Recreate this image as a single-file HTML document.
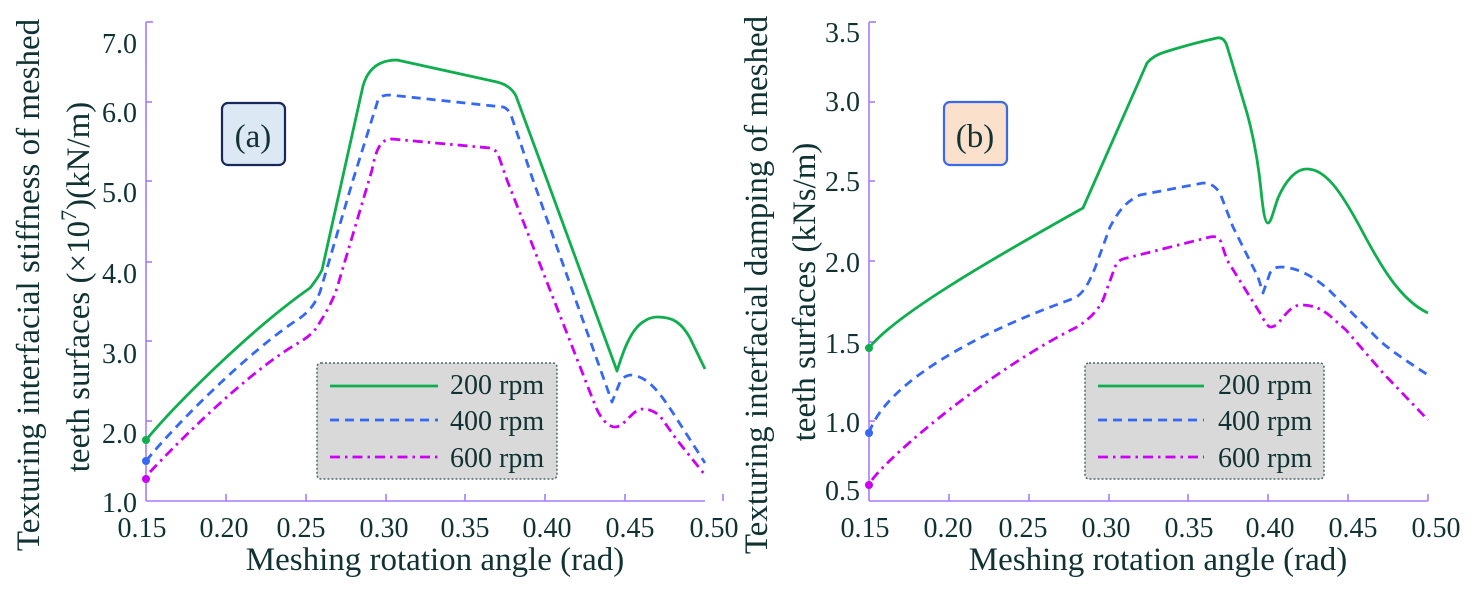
<!DOCTYPE html>
<html>
<head>
<meta charset="utf-8">
<style>
  html,body{margin:0;padding:0;background:#fff;}
  svg{display:block;}
  text{font-family:"Liberation Serif","Times New Roman",serif;fill:#103232;}
</style>
</head>
<body>
<svg width="1476" height="591" viewBox="0 0 1476 591" xmlns="http://www.w3.org/2000/svg">
  <!-- ================= PANEL A ================= -->
  <g stroke="#a57cff" stroke-width="1.6" fill="none">
    <line x1="146" y1="22" x2="146" y2="501"/>
    <line x1="146" y1="501" x2="705" y2="501"/>
    <!-- y ticks -->
    <line x1="146" y1="22" x2="153" y2="22"/>
    <line x1="146" y1="102" x2="152" y2="102"/>
    <line x1="146" y1="181" x2="152" y2="181"/>
    <line x1="146" y1="262" x2="152" y2="262"/>
    <line x1="146" y1="341" x2="152" y2="341"/>
    <line x1="146" y1="421" x2="152" y2="421"/>
    <!-- x ticks -->
    <line x1="226" y1="494" x2="226" y2="501"/>
    <line x1="306" y1="494" x2="306" y2="501"/>
    <line x1="386" y1="494" x2="386" y2="501"/>
    <line x1="465" y1="494" x2="465" y2="501"/>
    <line x1="545" y1="494" x2="545" y2="501"/>
    <line x1="625" y1="494" x2="625" y2="501"/>
    <line x1="723" y1="494" x2="723" y2="501"/>
  </g>
  <!-- y tick labels A -->
  <g font-size="28" text-anchor="end">
    <text x="137" y="53">7.0</text>
    <text x="137" y="122">6.0</text>
    <text x="137" y="202">5.0</text>
    <text x="137" y="283">4.0</text>
    <text x="137" y="363">3.0</text>
    <text x="137" y="443">2.0</text>
    <text x="137" y="512">1.0</text>
  </g>
  <!-- x tick labels A -->
  <g font-size="28" text-anchor="middle">
    <text x="142" y="537">0.15</text>
    <text x="224" y="537">0.20</text>
    <text x="301" y="537">0.25</text>
    <text x="384" y="537">0.30</text>
    <text x="465" y="537">0.35</text>
    <text x="547" y="537">0.40</text>
    <text x="630" y="537">0.45</text>
    <text x="714" y="537">0.50</text>
  </g>
  <text x="435" y="570" font-size="33" text-anchor="middle">Meshing rotation angle (rad)</text>
  <text transform="translate(39,285) rotate(-90)" font-size="33" text-anchor="middle">Texturing interfacial stiffness of meshed</text>
  <text transform="translate(89,287) rotate(-90)" font-size="33" text-anchor="middle">teeth surfaces (×10<tspan font-size="22" dy="-13">7</tspan><tspan dy="13">)(kN/m)</tspan></text>

  <!-- (a) label box -->
  <rect x="222" y="103" width="63" height="62" rx="6" ry="6" fill="#dde8f5" stroke="#17285a" stroke-width="2.2"/>
  <text x="253" y="147" font-size="33" text-anchor="middle">(a)</text>

  <!-- curves A -->
  <path d="M146,440 C175,405 250,330 310,288 C314,283 318,278 322,270 L363,86 C368,68 380,60 397,60 L497,82 C505,84 512,88 516,96 L547,180 L617,371 C622,355 630,330 643,322 Q650,317 657,317 C670,317 680,320 690,338 L705,369" fill="none" stroke="#0fae4e" stroke-width="2.8" stroke-linejoin="round"/>
  <path d="M146,461 C175,425 250,350 300,318 C310,311 316,302 320,292 L353,180 L378,100 C381,96 384,95 390,95 L503,107 C507,108 510,112 512,118 L533,180 L612,402 L620,382 C623,377 627,375 632,375 C645,377 655,385 673,413 L705,463" fill="none" stroke="#3568f5" stroke-width="2.8" stroke-dasharray="9,6" stroke-linejoin="round"/>
  <path d="M150,472 C180,440 250,370 300,342 C310,336 316,330 320,322 C326,313 333,300 337,288 L372,170 C376,150 380,139 392,139 L490,148 C495,149 497,152 499,157 L507,180 L595,405 C600,418 608,427 615,427 C625,427 632,409 643,409 C650,409 655,412 660,416 L677,440 L705,475" fill="none" stroke="#cc00f5" stroke-width="2.8" stroke-dasharray="10,5,2.5,5" stroke-linejoin="round"/>
  <circle cx="146" cy="440" r="4" fill="#0fae4e"/>
  <circle cx="146" cy="461" r="4" fill="#3568f5"/>
  <circle cx="146" cy="479" r="4" fill="#cc00f5"/>

  <!-- legend A -->
  <rect x="317" y="363" width="240" height="116" rx="4" ry="4" fill="#d9d9d9" stroke="#4d6767" stroke-width="1.5" stroke-dasharray="2,2"/>
  <line x1="330" y1="386" x2="438" y2="386" stroke="#0fae4e" stroke-width="2.8"/>
  <line x1="330" y1="420" x2="438" y2="420" stroke="#3568f5" stroke-width="2.8" stroke-dasharray="9,6"/>
  <line x1="330" y1="457" x2="438" y2="457" stroke="#cc00f5" stroke-width="2.8" stroke-dasharray="10,5,2.5,5"/>
  <g font-size="28">
    <text x="450" y="394">200 rpm</text>
    <text x="450" y="430">400 rpm</text>
    <text x="450" y="467">600 rpm</text>
  </g>

  <!-- ================= PANEL B ================= -->
  <g stroke="#a57cff" stroke-width="1.6" fill="none">
    <line x1="869" y1="22" x2="869" y2="501"/>
    <line x1="869" y1="501" x2="1428" y2="501"/>
    <line x1="869" y1="22" x2="876" y2="22"/>
    <line x1="869" y1="102" x2="875" y2="102"/>
    <line x1="869" y1="181" x2="875" y2="181"/>
    <line x1="869" y1="261" x2="875" y2="261"/>
    <line x1="869" y1="342" x2="875" y2="342"/>
    <line x1="869" y1="421" x2="875" y2="421"/>
    <line x1="949" y1="494" x2="949" y2="501"/>
    <line x1="1029" y1="494" x2="1029" y2="501"/>
    <line x1="1109" y1="494" x2="1109" y2="501"/>
    <line x1="1188" y1="494" x2="1188" y2="501"/>
    <line x1="1268" y1="494" x2="1268" y2="501"/>
    <line x1="1348" y1="494" x2="1348" y2="501"/>
    <line x1="1428" y1="494" x2="1428" y2="501"/>
  </g>
  <g font-size="28" text-anchor="end">
    <text x="860" y="42">3.5</text>
    <text x="860" y="111">3.0</text>
    <text x="860" y="191">2.5</text>
    <text x="860" y="272">2.0</text>
    <text x="860" y="353">1.5</text>
    <text x="860" y="432">1.0</text>
    <text x="860" y="500">0.5</text>
  </g>
  <g font-size="28" text-anchor="middle">
    <text x="865" y="537">0.15</text>
    <text x="948" y="537">0.20</text>
    <text x="1023" y="537">0.25</text>
    <text x="1106" y="537">0.30</text>
    <text x="1189" y="537">0.35</text>
    <text x="1270" y="537">0.40</text>
    <text x="1353" y="537">0.45</text>
    <text x="1436" y="537">0.50</text>
  </g>
  <text x="1158" y="570" font-size="33" text-anchor="middle">Meshing rotation angle (rad)</text>
  <text transform="translate(767,285) rotate(-90)" font-size="33" text-anchor="middle">Texturing interfacial damping of meshed</text>
  <text transform="translate(815,292) rotate(-90)" font-size="33" text-anchor="middle">teeth surfaces (kNs/m)</text>

  <!-- (b) label box -->
  <rect x="944" y="102" width="63" height="63" rx="6" ry="6" fill="#fbe0cc" stroke="#3a6ae8" stroke-width="2.2"/>
  <text x="975" y="147" font-size="33" text-anchor="middle">(b)</text>

  <!-- curves B -->
  <path d="M869,348 C895,315 990,260 1083,208 L1147,63 C1152,57 1158,54 1165,52 Q1190,44 1217,38 C1222,37 1225,40 1227,46 L1247,113 C1253,135 1258,160 1261,190 C1263,210 1265,223 1268,223 C1271,223 1273,212 1278,198 C1285,182 1295,169 1307,169 C1325,169 1340,190 1360,227 C1380,265 1400,300 1428,313" fill="none" stroke="#0fae4e" stroke-width="2.8" stroke-linejoin="round"/>
  <path d="M869,433 C885,385 970,335 1075,298 C1085,292 1090,280 1095,268 L1110,227 C1118,212 1125,202 1140,195 L1203,183 C1210,183 1215,186 1220,193 L1233,227 L1258,277 L1263,293 L1270,273 C1273,268 1276,267 1282,267 C1300,268 1315,278 1329,290 L1379,340 C1390,350 1405,360 1428,375" fill="none" stroke="#3568f5" stroke-width="2.8" stroke-dasharray="9,6" stroke-linejoin="round"/>
  <path d="M872,480 C890,455 990,370 1077,327 C1088,320 1097,312 1103,300 L1115,267 C1118,260 1122,259 1127,258 L1210,237 C1215,236 1219,237 1221,242 L1227,260 L1260,313 C1264,320 1267,327 1271,327 C1280,327 1287,305 1301,305 C1312,305 1320,308 1329,315 L1346,330 L1383,373 L1428,420" fill="none" stroke="#cc00f5" stroke-width="2.8" stroke-dasharray="10,5,2.5,5" stroke-linejoin="round"/>
  <circle cx="869" cy="348" r="4" fill="#0fae4e"/>
  <circle cx="869" cy="433" r="4" fill="#3568f5"/>
  <circle cx="869" cy="485" r="4" fill="#cc00f5"/>

  <!-- legend B -->
  <rect x="1085" y="363" width="239" height="116" rx="4" ry="4" fill="#d9d9d9" stroke="#4d6767" stroke-width="1.5" stroke-dasharray="2,2"/>
  <line x1="1098" y1="386" x2="1204" y2="386" stroke="#0fae4e" stroke-width="2.8"/>
  <line x1="1098" y1="420" x2="1204" y2="420" stroke="#3568f5" stroke-width="2.8" stroke-dasharray="9,6"/>
  <line x1="1098" y1="457" x2="1204" y2="457" stroke="#cc00f5" stroke-width="2.8" stroke-dasharray="10,5,2.5,5"/>
  <g font-size="28">
    <text x="1218" y="394">200 rpm</text>
    <text x="1218" y="430">400 rpm</text>
    <text x="1218" y="467">600 rpm</text>
  </g>
</svg>
</body>
</html>
